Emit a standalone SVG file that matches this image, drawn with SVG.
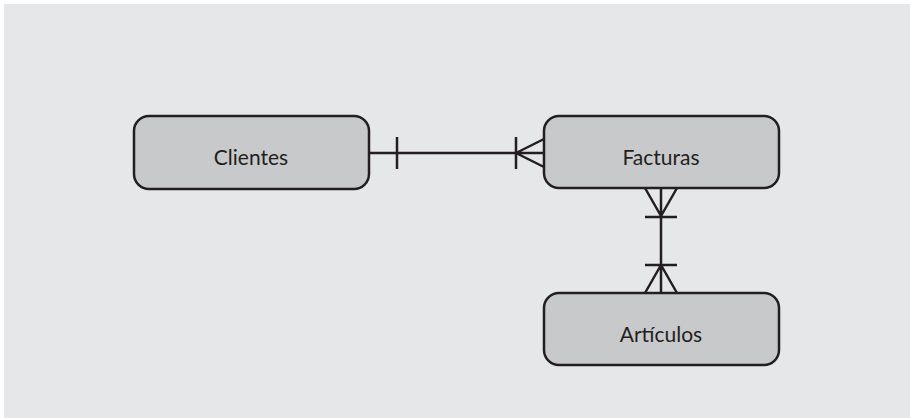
<svg xmlns="http://www.w3.org/2000/svg" width="910" height="418" viewBox="0 0 910 418">
<style>
.box{fill:#c8c9cb;stroke:#231f20;stroke-width:2.5}
.lbl{font-family:Lato,"Liberation Sans",sans-serif;font-size:21px;fill:#231f20;text-anchor:middle;dominant-baseline:central}
.ln{stroke:#231f20;stroke-width:2.5;fill:none}
</style>
<rect x="0" y="0" width="910" height="418" fill="#ffffff"/>
<rect x="4" y="4" width="906" height="414" fill="#e6e7e8"/>
<g id="connectors">
<path class="ln" d="M369 153H544M397 137V169M516 137V169M516 153L544 139M516 153L544 167"/>
<path class="ln" d="M661 188V293M645 217H677M645 265H677M661 216L645 188M661 216L677 188M661 265L645 293M661 265L677 293"/>
</g>
<g id="clientes"><rect class="box" x="134" y="116" width="235" height="73" rx="15"/><text class="lbl" x="251" y="156">Clientes</text></g>
<g id="facturas"><rect class="box" x="544" y="116" width="235" height="72" rx="15"/><text class="lbl" x="661" y="156">Facturas</text></g>
<g id="articulos"><rect class="box" x="544" y="293" width="235" height="72" rx="15"/><text class="lbl" x="661" y="333">Artículos</text></g>
</svg>
